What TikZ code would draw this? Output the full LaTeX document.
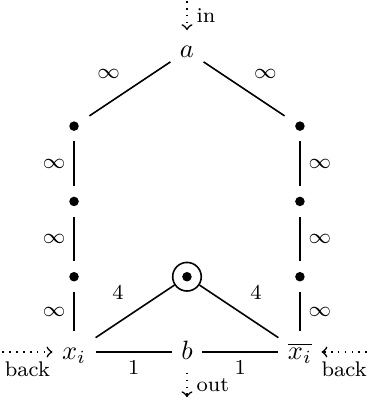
\documentclass[tikz,border=0pt]{standalone}
\begin{document}
\begin{tikzpicture}[
  line width=0.6pt,
  dotnode/.style={rectangle, minimum size=11pt, inner sep=0pt,
    path picture={\fill (path picture bounding box.center) circle (1.8pt);}},
  ringnode/.style={circle, draw, minimum size=10.8pt, inner sep=0pt,
    path picture={\fill (path picture bounding box.center) circle (1.8pt);}},
  mathnode/.style={text height=1.6ex, text depth=0.35ex},
  lab/.style={font=\footnotesize, inner sep=2pt},
  side/.style={font=\footnotesize},
  flow/.style={dotted, ->}
]
\useasboundingbox (-0.983,-0.730) rectangle (3.918,4.675);
\node[mathnode] (a) at (1.5,4) {$a$};
\node[dotnode] (l3) at (0,3) {};
\node[dotnode] (l2) at (0,2) {};
\node[dotnode] (l1) at (0,1) {};
\node[dotnode] (r3) at (3,3) {};
\node[dotnode] (r2) at (3,2) {};
\node[dotnode] (r1) at (3,1) {};
\node[ringnode] (c) at (1.5,1) {};
\node[mathnode] (xi) at (0,0) {$x_i$};
\node[mathnode] (b) at (1.5,0) {$b$};
\node[mathnode] (xb) at (3,0) {$\overline{x_i}$};
\coordinate (inS) at (1.5,4.66);
\coordinate (outE) at (1.5,-0.6);
\coordinate (backL) at (-0.95,0);
\coordinate (backR) at (3.89,0);

\draw (a) -- node[lab, above left=1.5pt] {$\infty$} (l3);
\draw (a) -- node[lab, above right=1.5pt] {$\infty$} (r3);
\draw (l3) -- node[lab, left=1pt] {$\infty$} (l2);
\draw (l2) -- node[lab, left=1pt] {$\infty$} (l1);
\draw (l1) -- node[lab, left=1pt] {$\infty$} (xi);
\draw (r3) -- node[lab, right=1pt] {$\infty$} (r2);
\draw (r2) -- node[lab, right=1pt] {$\infty$} (r1);
\draw (r1) -- node[lab, right=1pt] {$\infty$} (xb);
\draw (c) -- node[lab, above left=2pt] {$4$} (xi);
\draw (c) -- node[lab, above right=2pt] {$4$} (xb);
\draw (xi) -- node[lab, below=1pt] {$1$} (b);
\draw (b) -- node[lab, below=1pt] {$1$} (xb);

\draw[flow] (inS) -- node[side, right] {in} (a);
\draw[flow] (b) -- node[side, right] {out} (outE);
\draw[flow] (backL) -- node[side, below] {back} (xi);
\draw[flow] (backR) -- node[side, below] {back} (xb);
\end{tikzpicture}
\end{document}
